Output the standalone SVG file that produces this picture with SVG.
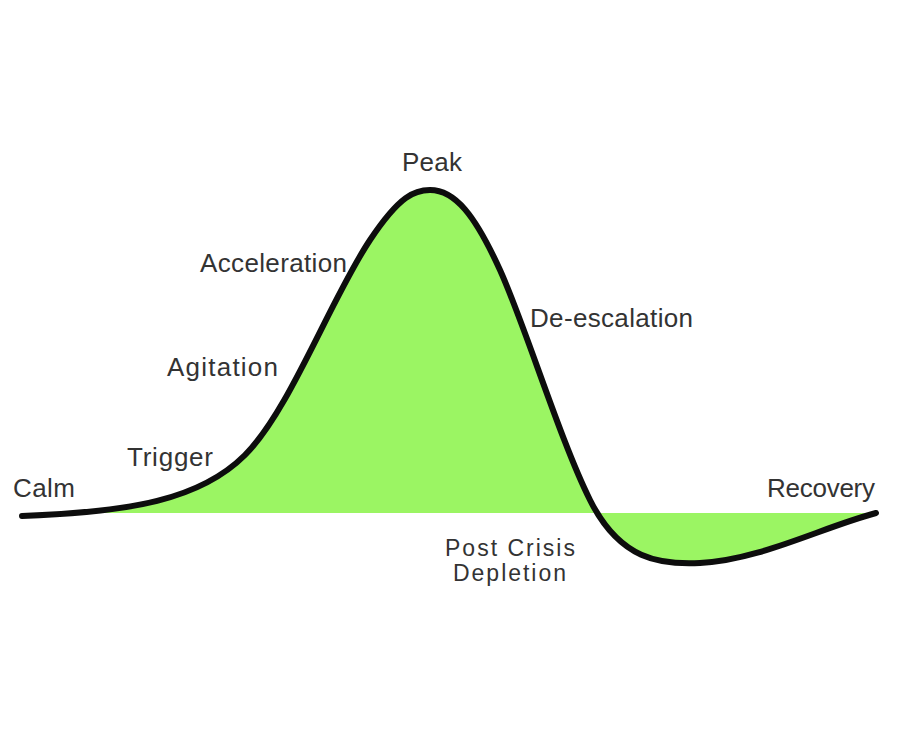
<svg xmlns="http://www.w3.org/2000/svg" width="899" height="754" viewBox="0 0 899 754">
  <style>
    .lbl { font-family: "Liberation Sans", "DejaVu Sans", sans-serif; font-size: 26px; fill: #333333; }
    .sm { font-size: 23px; }
    .curve { fill: none; stroke: #0d0d0d; stroke-width: 6; stroke-linecap: round; stroke-linejoin: round; }
    .area { fill: #9bf563; stroke: none; }
  </style>
  <rect x="0" y="0" width="899" height="754" fill="#ffffff"/>
  <g id="area">
    <path class="area" d="M22,516 C130,512 200,500 245,455 C290,410 330,300 370,240 C400,195 415,190 430,190 C455,190 475,215 500,270 C525,325 560,440 590,500 C620,560 660,565 700,563 C760,560 820,528 874,513 L874,513 L80,513 Z"/>
  </g>
  <g id="curve">
    <path class="curve" d="M22,516 C130,512 200,500 245,455 C290,410 330,300 370,240 C400,195 415,190 430,190 C455,190 475,215 500,270 C525,325 560,440 590,500 C620,560 660,565 700,563 C760,560 820,528 876,513"/>
  </g>
  <g id="labels">
    <text class="lbl" x="402" y="171" textLength="60">Peak</text>
    <text class="lbl" x="200" y="272" textLength="147">Acceleration</text>
    <text class="lbl" x="530" y="327" textLength="163">De-escalation</text>
    <text class="lbl" x="167" y="376" textLength="111">Agitation</text>
    <text class="lbl" x="127" y="466" textLength="86">Trigger</text>
    <text class="lbl" x="13" y="497" textLength="62">Calm</text>
    <text class="lbl" x="767" y="497" textLength="108">Recovery</text>
    <text class="lbl sm" x="445" y="556" textLength="130">Post Crisis</text>
    <text class="lbl sm" x="453" y="581" textLength="113">Depletion</text>
  </g>
</svg>
